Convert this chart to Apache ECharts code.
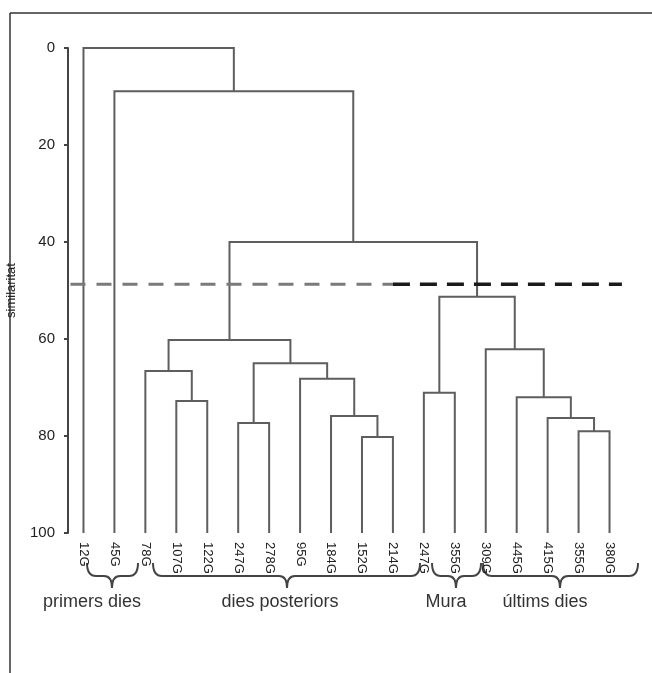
<!DOCTYPE html>
<html>
<head>
<meta charset="utf-8">
<script src="https://cdn.jsdelivr.net/npm/echarts@6/dist/echarts.min.js"></script>
<style>
  html, body { margin: 0; padding: 0; background: #fff; }
  #chart { width: 652px; height: 673px; }
</style>
</head>
<body>
<div id="chart"></div>
<script>
// leaves, left to right
const leafNames = ['12G', '45G', '78G', '107G', '122G', '247G', '278G', '95G', '184G',
  '152G', '214G', '247G', '355G', '309G', '445G', '415G', '355G', '380G']

// joins: [node a, node b, similarity]; new nodes get ids 18, 19, ...
const joins = [
  [9, 10, 80.2],
  [8, 18, 75.9],
  [7, 19, 68.2],
  [5, 6, 77.3],
  [21, 20, 65.0],
  [3, 4, 72.8],
  [2, 23, 66.6],
  [24, 22, 60.2],
  [16, 17, 79.0],
  [15, 26, 76.3],
  [14, 27, 72.0],
  [13, 28, 62.1],
  [11, 12, 71.1],
  [30, 29, 51.3],
  [25, 31, 40.0],
  [1, 32, 8.9],
  [0, 33, 0]
]

const yTicks = [0, 20, 40, 60, 80, 100]
const cutLevel = 48.7
const groupNames = ['primers dies', 'dies posteriors', 'Mura', 'últims dies']

// build the U-shaped links
const pos = leafNames.map((_, i) => [i, 100])
const links = []
joins.forEach(([a, b, h]) => {
  const [xa, ya] = pos[a]
  const [xb, yb] = pos[b]
  links.push({ coords: [[xa, ya], [xa, h], [xb, h], [xb, yb]] })
  pos.push([(xa + xb) / 2, h])
})

const FONT = '"Liberation Sans", Arial, Helvetica, sans-serif'

// curly brace under a group, made of curves and lines
const braceStyle = { fill: null, stroke: '#444', lineWidth: 2 }
const brace = (xa, xb, xt) => {
  const y0 = 563, y1 = 576, y2 = 588
  const curve = (x1, y1_, x2, y2_, cx, cy) => ({
    type: 'bezierCurve', shape: { x1: x1, y1: y1_, x2: x2, y2: y2_, cpx1: cx, cpy1: cy }, style: braceStyle
  })
  const seg = (x1, y1_, x2, y2_) => ({
    type: 'line', shape: { x1: x1, y1: y1_, x2: x2, y2: y2_ }, style: braceStyle
  })
  return [
    curve(xa, y0, xa + 9, y1, xa, y1),
    seg(xa + 9, y1, xt - 8, y1),
    curve(xt - 8, y1, xt, y2, xt, y1),
    curve(xt, y2, xt + 8, y1, xt, y1),
    seg(xt + 8, y1, xb - 9, y1),
    curve(xb - 9, y1, xb, y0, xb, y1)
  ]
}
const braces = [[87, 138, 112], [153, 420, 287], [432, 481, 456], [483, 638, 560]]
const groupX = [92, 280, 446, 545]

const chart = echarts.init(document.getElementById('chart'))

const option = {
  backgroundColor: '#fff',
  animation: false,
  grid: { left: 68, right: 27, top: 48, bottom: 140, containLabel: false, outerBoundsMode: 'none' },
  xAxis: [
    { type: 'value', min: -0.5, max: 17.5, show: false },
    {
      type: 'category',
      data: leafNames,
      position: 'bottom',
      axisLine: { show: false },
      axisTick: { show: false },
      axisLabel: { rotate: -90, margin: 9, fontSize: 13, color: '#222', fontFamily: FONT, interval: 0 }
    }
  ],
  yAxis: {
    type: 'value',
    inverse: true,
    min: 0,
    max: 100,
    interval: 20,
    name: 'similaritat',
    nameLocation: 'middle',
    nameGap: 50,
    nameRotate: 90,
    nameTextStyle: { fontSize: 13, color: '#222', fontFamily: FONT },
    axisLine: { show: true, onZero: false, lineStyle: { color: '#444', width: 2 } },
    axisTick: { show: true, length: 4, lineStyle: { color: '#444', width: 2 } },
    axisLabel: {
      margin: 13, fontSize: 15, color: '#222', fontFamily: FONT,
      formatter: v => (yTicks.includes(v) ? String(v) : '')
    },
    splitLine: { show: false }
  },
  series: [
    {
      type: 'lines',
      coordinateSystem: 'cartesian2d',
      xAxisIndex: 0,
      yAxisIndex: 0,
      polyline: true,
      silent: true,
      lineStyle: { color: '#5e5e5e', width: 2, opacity: 1 },
      data: links
    },
    {
      type: 'line',
      xAxisIndex: 0,
      clip: false,
      symbol: 'none',
      silent: true,
      lineStyle: { color: '#7a7a7a', width: 3, type: [15, 11] },
      data: [[-1.26, cutLevel], [10, cutLevel]]
    },
    {
      type: 'line',
      xAxisIndex: 0,
      clip: false,
      symbol: 'none',
      silent: true,
      lineStyle: { color: '#1a1a1a', width: 3.5, type: [17, 10] },
      data: [[10, cutLevel], [17.4, cutLevel]]
    }
  ],
  graphic: [
    { type: 'line', shape: { x1: 10, y1: 13, x2: 652, y2: 13 }, style: { stroke: '#333', lineWidth: 1.5 } },
    { type: 'line', shape: { x1: 10, y1: 13, x2: 10, y2: 673 }, style: { stroke: '#333', lineWidth: 1.5 } },
    ...braces.flatMap(b => brace(b[0], b[1], b[2])),
    ...groupNames.map((g, i) => ({
      type: 'text',
      x: groupX[i],
      y: 602,
      style: {
        text: g, fill: '#333', font: '18px ' + FONT,
        textAlign: 'center', textVerticalAlign: 'middle'
      }
    }))
  ]
}

chart.setOption(option)
</script>
</body>
</html>
